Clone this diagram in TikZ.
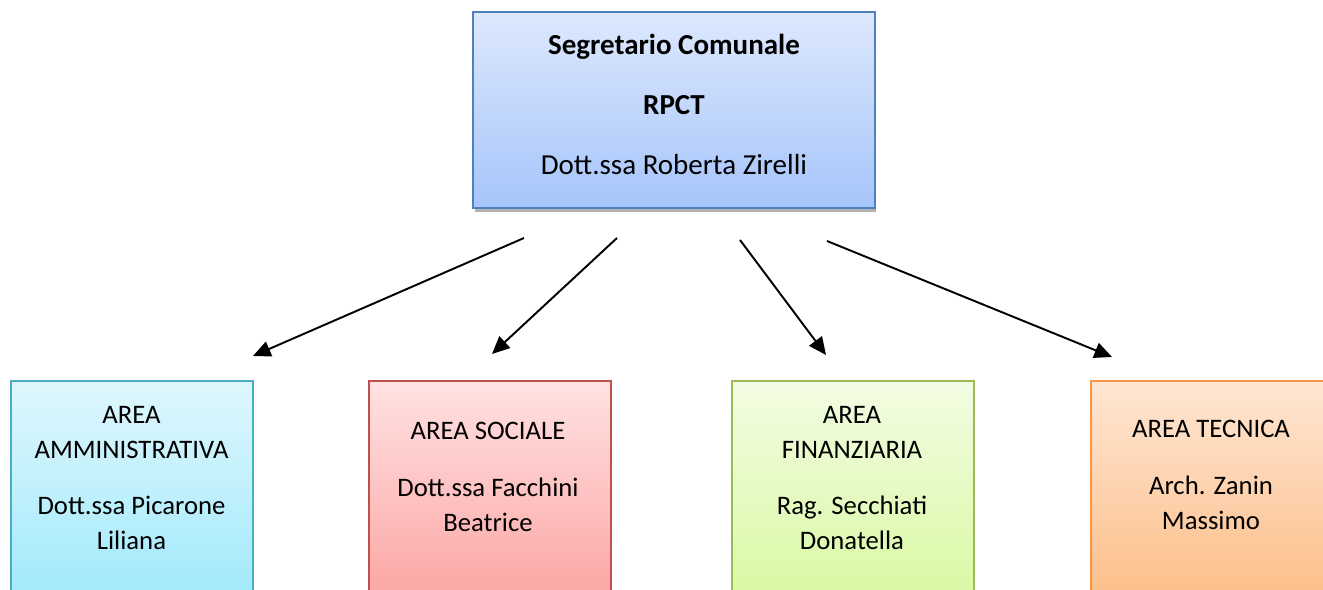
\documentclass[tikz,border=0pt]{standalone}
\usepackage{fontspec}
\setmainfont{Carlito}
\usetikzlibrary{arrows.meta}

% colours of the boxes
\definecolor{rpctline}{HTML}{4F81BD}
\definecolor{rpcttop}{HTML}{DDE8FD}
\definecolor{rpctbot}{HTML}{A6C5FA}
\definecolor{ammline}{HTML}{4BACC6}
\definecolor{ammtop}{HTML}{DFF7FD}
\definecolor{ammbot}{HTML}{A0E9FB}
\definecolor{socline}{HTML}{C0504D}
\definecolor{soctop}{HTML}{FFE2E2}
\definecolor{socbot}{HTML}{FBA5A3}
\definecolor{finline}{HTML}{9BBB59}
\definecolor{fintop}{HTML}{F3FCE3}
\definecolor{finbot}{HTML}{D8F9A2}
\definecolor{tecline}{HTML}{F79646}
\definecolor{tectop}{HTML}{FEE6D3}
\definecolor{tecbot}{HTML}{FDBE88}

\tikzset{
  topbox/.style={line width=1.1pt, draw=rpctline, top color=rpcttop, bottom color=rpctbot,
    minimum width=8.04cm, minimum height=3.92cm, inner sep=0pt},
  areabox/.style={line width=1.1pt, anchor=north west, minimum width=4.84cm,
    minimum height=4.4cm, inner sep=0pt},
  boxtext/.style={align=center, inner sep=0pt, anchor=base},
  areatext/.style={boxtext, font=\fontsize{15.2}{20.3}\selectfont},
  linkarrow/.style={line width=1.1pt, -{Triangle[length=10pt, width=9pt]}}
}

\begin{document}
\begin{tikzpicture}[x=0.02cm, y=-0.02cm, font=\fontsize{16.5}{20.5}\selectfont]
  \useasboundingbox (0,0) rectangle (1323,590);
  \clip (0,0) rectangle (1323,590);

  % top box with its shadow
  \fill[black!30] (475,15) rectangle (876,212);
  \node[topbox] (rpct) at (674,110) {};
  % texts sit on the baseline of their last line
  \node[boxtext] (rpcttxt) at (674,175)
    {\textbf{Segretario Comunale}\\[0.48cm]\textbf{RPCT}\\[0.48cm]Dott.ssa Roberta Zirelli};

  % the four areas
  \foreach \name/\x/\edge/\light/\dark in {amm/10/ammline/ammtop/ammbot,
      soc/368/socline/soctop/socbot, fin/731/finline/fintop/finbot,
      tec/1090/tecline/tectop/tecbot}{
    \node[areabox, draw=\edge, top color=\light, bottom color=\dark] (\name) at (\x,380) {};
  }

  \node[areatext] (ammtxt) at (131.5,550) {AREA\\AMMINISTRATIVA\\[0.4cm]Dott.ssa Picarone\\Liliana};
  \node[areatext] (soctxt) at (488,532) {AREA SOCIALE\\[0.42cm]Dott.ssa Facchini\\Beatrice};
  \node[areatext] (fintxt) at (852,550) {AREA\\FINANZIARIA\\[0.4cm]Rag. Secchiati\\Donatella};
  \node[areatext] (tectxt) at (1211,530) {AREA TECNICA\\[0.42cm]Arch. Zanin\\Massimo};

  % arrows from the secretary to the areas
  \foreach \i/\sx/\sy/\ex/\ey in {1/524/238/253/356, 2/617/238/492/354,
      3/740/240/826/355, 4/827/241/1112/357}{
    \coordinate (s\i) at (\sx,\sy);
    \coordinate (e\i) at (\ex,\ey);
    \draw[linkarrow] (s\i) -- (e\i);
  }
\end{tikzpicture}
\end{document}
